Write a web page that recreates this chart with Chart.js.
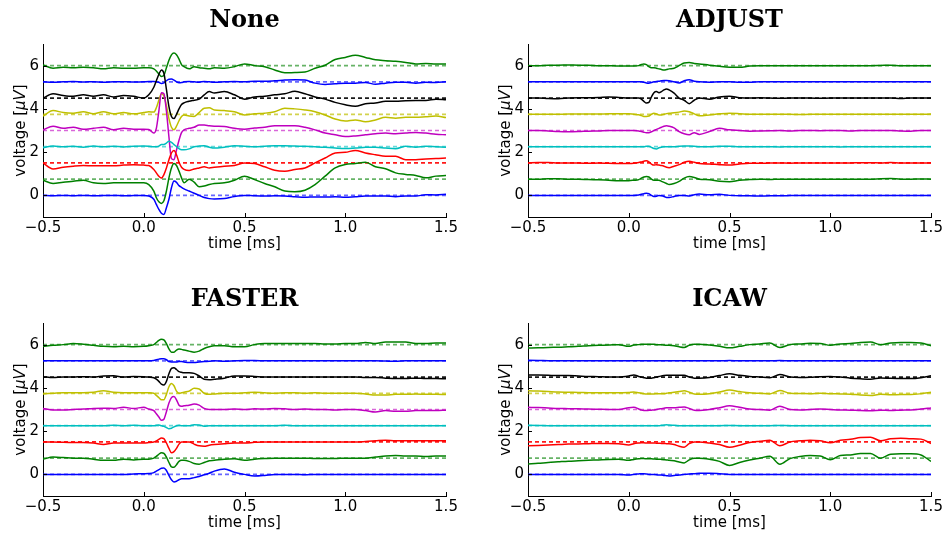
<!DOCTYPE html>
<html>
<head>
<meta charset="utf-8">
<script src="https://cdn.jsdelivr.net/npm/chart.js@4.4.0/dist/chart.umd.min.js"></script>
<style>
  html, body { margin: 0; padding: 0; background: #fff; width: 947px; height: 537px; overflow: hidden; }
  canvas { position: absolute; }
</style>
</head>
<body>
<canvas id="cNone"></canvas>
<canvas id="cAdjust"></canvas>
<canvas id="cFaster"></canvas>
<canvas id="cIcaw"></canvas>
<script>
/* sample times [ms], finer around the artifact */
const times = [-0.5,-0.45,-0.4,-0.35,-0.3,-0.25,-0.2,-0.15,-0.1,-0.05,0,
  0.025,
  0.05,0.0625,0.075,0.0875,0.1,0.1125,0.125,0.1375,0.15,0.1625,0.175,0.1875,0.2,
  0.225,0.25,0.275,0.3,0.325,0.35,
  0.4,0.45,0.5,0.55,0.6,0.65,0.7,0.75,0.8,0.85,0.9,0.95,1.0,1.05,1.1,1.15,1.2,1.25,1.3,1.35,1.4,1.45,1.5];

/* channel baselines [uV] (bottom to top) */
const offsets = [0, 0.75, 1.5, 2.25, 3, 3.75, 4.5, 5.25, 6];
const xTicks = [-0.5, 0, 0.5, 1, 1.5];
const yTicks = [0, 2, 4, 6];

/* deviation from baseline per channel, one row per channel */
const noneTraces = [
  [0,-0.02,0,-0.02,0,-0.02,-0.01,0,-0.02,-0.01,0, -0.03, -0.18,-0.42,-0.65,-0.83,-0.88,-0.57,-0.18,0.35,0.66,0.6,0.45,0.37,0.3, 0.2,0.1,0,-0.1,-0.15,-0.17, -0.15,-0.05,0,-0.02,-0.03,-0.02,-0.03,-0.06,-0.09,-0.07,-0.08,-0.06,-0.09,-0.06,-0.03,-0.03,-0.03,-0.06,-0.03,-0.03,0.03,0.02,0.05],
  [-0.05,-0.2,-0.14,-0.1,-0.05,-0.17,-0.2,-0.17,-0.17,-0.17,-0.17, -0.25, -0.55,-0.86,-1.05,-1.12,-1.0,-0.55,0.06,0.52,0.72,0.63,0.37,0.06,-0.17, 0,-0.14,-0.35,-0.32,-0.25,-0.2, -0.17,-0.05,0.14,-0.02,-0.2,-0.35,-0.55,-0.58,-0.51,-0.25,0.14,0.52,0.68,0.72,0.78,0.57,0.48,0.29,0.22,0.17,0.06,0.14,0.17],
  [0,-0.28,-0.2,-0.15,-0.12,-0.13,-0.13,-0.13,-0.1,-0.08,-0.1, -0.12, -0.3,-0.46,-0.62,-0.7,-0.54,-0.23,0.15,0.46,0.57,0.38,0.03,-0.2,-0.3, -0.35,-0.28,-0.23,-0.18,-0.23,-0.2, -0.15,-0.12,0,-0.03,-0.18,-0.34,-0.38,-0.3,-0.23,0,0.23,0.46,0.49,0.58,0.46,0.38,0.31,0.31,0.15,0.15,0.18,0.2,0.23],
  [-0.05,0.03,0,0.02,-0.02,0.03,0,0.02,-0.01,0.02,0.03, 0.02, 0,0,0.03,0.1,0.1,0.17,0.25,0.2,0.1,0,-0.09,-0.14,-0.14, -0.1,0,0.03,0.04,-0.02,-0.06, -0.02,0.04,0.02,0,0.02,0.04,0.04,0.03,0.02,0,-0.03,-0.06,-0.08,-0.06,-0.03,-0.02,-0.06,-0.09,0.02,-0.02,0.02,0,-0.02],
  [0.03,0.2,0.1,0.15,0.06,0.1,0.15,0.03,0.1,0.06,0.06, 0.05, -0.12,0.1,0.9,1.75,1.7,0.9,-0.3,-1.3,-1.35,-0.9,-0.45,-0.1,0.03, 0.1,0.15,0.25,0.25,0.22,0.2, 0.18,0.1,0.06,0.11,0.15,0.22,0.22,0.22,0.15,0.03,-0.12,-0.2,-0.28,-0.25,-0.2,-0.15,-0.12,-0.15,-0.12,-0.09,-0.12,-0.17,-0.2],
  [-0.08,0.17,0.08,0.05,0.12,0.02,0.12,0.02,0.08,0.02,0.08, 0.12, 0.1,0.3,0.65,0.95,0.85,0.4,-0.2,-0.6,-0.72,-0.55,-0.3,-0.1,-0.03, -0.08,-0.1,0.08,0.28,0.3,0.2, 0.17,0.12,-0.03,0.02,0.05,0.12,0.28,0.25,0.2,0.12,-0.03,-0.22,-0.31,-0.26,-0.34,-0.26,-0.14,-0.18,-0.14,-0.14,-0.11,-0.08,-0.15],
  [0,0.2,0.12,0.08,0.15,0.08,0.15,0.05,0.12,0.08,0, 0.15, 0.5,0.8,1.1,1.3,1.15,0.4,-0.4,-0.85,-0.95,-0.75,-0.5,-0.3,-0.22, -0.15,-0.1,-0.05,0.15,0.3,0.23, 0.3,0.15,-0.05,0.05,0.08,0.15,0.2,0.31,0.2,0.05,-0.05,-0.2,-0.31,-0.38,-0.26,-0.23,-0.15,-0.15,-0.12,-0.11,-0.11,-0.05,-0.08],
  [0,-0.02,0,0.02,-0.01,0.01,-0.02,0,0.01,-0.01,0, 0.02, 0.02,0,-0.02,-0.08,-0.05,0.05,0.12,0.13,0.08,0,-0.04,-0.03,0, 0.02,0,-0.02,0.02,0,-0.02, 0,0.02,0,0.03,0.03,0.05,0.08,0.1,0.08,-0.06,-0.12,-0.09,-0.06,-0.06,-0.03,-0.11,-0.06,-0.02,-0.02,-0.06,-0.02,-0.03,0],
  [0.03,-0.12,-0.08,-0.1,-0.08,-0.1,-0.15,-0.1,-0.12,-0.12,-0.1, -0.1, -0.15,-0.25,-0.38,-0.5,-0.45,-0.1,0.25,0.5,0.58,0.5,0.3,0.05,-0.05, -0.15,-0.05,-0.1,-0.12,-0.15,-0.1, -0.12,-0.05,0.08,0,-0.05,-0.2,-0.33,-0.32,-0.3,-0.12,0.02,0.28,0.38,0.48,0.38,0.27,0.23,0.2,0.15,0.08,0.1,0.08,0.08]
];

const adjustTraces = [
  [0,0,-0.01,0,0,-0.01,0,-0.01,0,0,0, 0, 0.02,0.05,0.08,0.1,0.08,0,-0.05,-0.04,0,-0.02,-0.05,-0.1,-0.1, -0.05,0,0,-0.03,0.03,0.06, 0.03,0.05,0,-0.02,-0.02,-0.03,-0.02,-0.02,-0.01,0,0,-0.01,0,0,0,0,-0.01,0,0,0,0,0,0],
  [0,0,0.02,0.02,0,0,-0.02,-0.03,-0.05,-0.07,-0.07, -0.05, -0.02,0.05,0.1,0.12,0.1,0,-0.05,-0.05,-0.05,-0.1,-0.15,-0.2,-0.25, -0.2,-0.1,0.05,0.12,0.08,0, -0.03,-0.1,-0.12,-0.05,-0.02,0,-0.02,0,0,0,0,-0.01,0,0,0,0,0,0.02,0.03,0,0,0.01,0],
  [0,0.02,0.02,0,0,0,-0.02,0,-0.02,-0.03,-0.03, -0.02, 0.02,0.05,0.08,0.1,0.05,-0.05,-0.1,-0.08,-0.1,-0.12,-0.15,-0.2,-0.22, -0.15,-0.08,0.03,0.08,0.03,-0.03, -0.05,-0.08,-0.1,-0.05,-0.02,-0.02,0,0,-0.01,0,0,0,0,0,0,0.01,0.01,0,0.02,0,0,0,0],
  [0,0,0,0,0,0,0,0,0,0,0, 0, 0,0,0,0.02,0.02,-0.03,-0.08,-0.1,-0.05,-0.02,0,0,0, 0,0.02,0.03,0.03,0.02,0, 0,0.02,0.02,0,0,0,0,-0.01,0,0,0,0,0,-0.01,0,0,0,0,0,0,0,0,0],
  [0,0,-0.02,-0.05,-0.06,-0.05,-0.03,-0.02,0,0,0, 0, -0.02,-0.05,-0.08,-0.1,-0.1,-0.06,0,0.05,0.1,0.15,0.2,0.22,0.2, 0.12,-0.05,-0.15,-0.2,-0.1,-0.18, -0.05,0.1,0.03,0,-0.03,-0.02,-0.01,0,-0.02,0,0,-0.01,0,0,-0.02,0,0,0,0,-0.02,-0.03,0,0],
  [0,0,0,0,0.01,0.01,0.01,0.01,0.02,0.02,0.02, 0, -0.02,-0.06,-0.1,-0.1,-0.08,0,0.05,0.02,-0.03,-0.03,0,0.03,0.05, 0.07,0.1,0.15,0.12,0.02,-0.07, -0.03,0.02,0.05,0.03,0,0,0,0,0,-0.01,0,0,0,0,0,0,0,0,0,0,0,0,0.01],
  [0,0,-0.02,-0.03,0,0.02,0.02,0.03,0.05,0.03,0, 0, 0,-0.05,-0.15,-0.23,-0.2,0.05,0.25,0.3,0.25,0.3,0.38,0.42,0.38, 0.23,0,-0.1,-0.26,-0.1,0, -0.05,0.05,0.08,0.02,0,0.01,0,-0.01,0,0,0,-0.01,0,0,0,0,0,0,0,-0.02,0,0,0],
  [0,0,0,0,0,0,0,0,0,0,0, 0, 0,0,-0.02,-0.05,-0.06,-0.03,0,0.02,0.03,0.05,0.06,0.06,0.05, 0,-0.05,0.05,0.1,0.03,0, -0.02,0,0,-0.02,-0.02,0,0,0,0,0,0,0,0,0,0,0,0,0,0,0,0,0,0],
  [0,0,0.02,0.02,0.03,0.02,0.02,0,0,-0.02,-0.02, -0.02, 0,0.05,0.08,0.05,-0.05,-0.1,-0.1,-0.12,-0.15,-0.18,-0.2,-0.18,-0.15, -0.12,0,0.12,0.14,0.1,0.08, 0.02,-0.03,-0.07,-0.08,-0.02,0,0,0,0,0,0,0,0,0,0,0,0,0.01,0.02,0,0,0,0]
];

const fasterTraces = [
  [0,0,0,0,0,0,0,0,0,0.02,0.03, 0.04, 0.08,0.15,0.22,0.28,0.3,0.18,-0.05,-0.25,-0.35,-0.32,-0.25,-0.2,-0.2, -0.2,-0.15,-0.1,-0.02,0.05,0.15, 0.25,0.1,0,-0.08,-0.05,0,0,0,-0.02,0,0,0,-0.01,0,0,-0.01,0,0,0,0,0,0,0],
  [-0.05,0.05,0.03,0,0,-0.05,-0.1,-0.1,-0.05,-0.08,-0.05, -0.05, 0,0.08,0.18,0.25,0.22,0.05,-0.2,-0.4,-0.42,-0.3,-0.15,-0.1,-0.1, -0.15,-0.25,-0.28,-0.2,-0.12,-0.1, -0.05,-0.03,-0.1,-0.05,-0.02,0,0,0,0,-0.02,-0.02,-0.02,0,0,0,0.05,0.1,0.12,0.1,0.1,0.08,0.1,0.1],
  [0,0,-0.02,-0.03,-0.03,-0.05,-0.12,-0.05,-0.05,-0.05,-0.05, -0.03, 0,0.05,0.12,0.18,0.15,-0.05,-0.3,-0.5,-0.45,-0.3,-0.1,0,0, 0,-0.1,-0.18,-0.2,-0.15,-0.12, -0.08,-0.05,-0.05,-0.02,0,0,0,0,0,0,0,0,0,0,0.02,0.05,0.08,0.06,0.06,0.05,0.05,0.05,0.05],
  [0,0,0,0,0,0,0,0.02,0,0.02,0, 0, 0,0.02,0.03,0,-0.03,-0.08,-0.14,-0.12,-0.05,0,0.02,0,0, 0,0.05,0.03,-0.02,0,0, 0,0,0,0,0,0,0.02,0,0,0,0,0,0,0,0,0,0,0,0,0,0,0,0],
  [0.05,-0.02,-0.02,0,0.02,0.05,0.06,0.05,0.1,0.05,0.1, 0.02, -0.05,-0.2,-0.35,-0.5,-0.45,-0.1,0.3,0.55,0.6,0.45,0.2,0.15,0.17, 0.2,0.25,0.2,0.05,0,0, 0,0.02,0,0.03,0.02,0.05,0.03,0,0.02,0,0,-0.02,0,0,-0.05,-0.12,-0.05,-0.08,-0.08,-0.05,-0.05,-0.05,-0.03],
  [-0.03,0,0.03,0.03,0.03,0.05,0.12,0.05,0.03,0.03,0.03, 0.02, 0,-0.1,-0.2,-0.3,-0.3,-0.05,0.3,0.45,0.35,0.1,0,0.02,0.05, 0.1,0.23,0.2,0,-0.05,-0.03, 0,0,0.02,0.05,0.02,0,0.02,0.02,0,0.03,0,0,0,0,-0.03,-0.08,-0.08,-0.05,-0.05,-0.03,-0.05,-0.05,-0.06],
  [0.02,-0.02,0,0,0.02,0,0.05,0.06,0,0.03,0.02, 0, -0.03,-0.1,-0.2,-0.33,-0.37,-0.2,0.15,0.4,0.43,0.35,0.25,0.22,0.2, 0.2,0.17,0.05,-0.1,-0.12,-0.1, -0.05,0.05,0.05,0.03,0,0,0,0,0,0,0,0,0,0,-0.02,-0.02,-0.05,-0.07,-0.07,-0.05,-0.07,-0.07,-0.08],
  [0,0,0,0,0,0,0,0,0,0,0, 0, 0.02,0.05,0.08,0.1,0.1,0.05,-0.03,-0.05,-0.05,-0.05,-0.03,-0.03,-0.05, -0.08,-0.08,-0.05,-0.03,-0.02,0, -0.02,0,0.02,0.02,0,0,0,0,0,0,0,0,0,0,0,0,-0.01,-0.02,0,0,0,0,0],
  [-0.08,-0.03,0,0.05,0.02,-0.03,-0.08,-0.1,-0.08,-0.1,-0.08, -0.05, 0,0.1,0.2,0.25,0.22,0.05,-0.2,-0.35,-0.35,-0.25,-0.2,-0.22,-0.25, -0.3,-0.35,-0.3,-0.18,-0.1,-0.05, -0.05,-0.1,-0.1,0,0.05,0.05,0.05,0.05,0.05,0.05,0.03,0.03,0.05,0.05,0.1,0.05,0.12,0.12,0.12,0.05,0.05,0.08,0.08]
];

const icawTraces = [
  [0,0,0,0,0,0,0,0,0,0,-0.03, 0, 0.02,0.03,0.03,0.02,0,0,0,-0.02,-0.03,-0.03,-0.05,-0.06,-0.07, -0.05,-0.03,0,0.02,0.03,0.05, 0.05,0.03,0,0,0,0,0,0,0,0,0,0,0,0,0,0,0,0,0,0,0,0,0],
  [-0.27,-0.24,-0.2,-0.17,-0.14,-0.12,-0.1,-0.08,-0.06,-0.05,-0.1, -0.06, -0.03,-0.02,-0.02,-0.03,-0.03,-0.03,-0.04,-0.05,-0.05,-0.06,-0.07,-0.08,-0.1, -0.12,-0.18,-0.22,-0.08,0,0, -0.05,-0.15,-0.34,-0.2,-0.09,0,0.09,-0.28,-0.02,0.08,0.12,0.1,-0.07,0.12,0.15,0.22,0.22,0,0.18,0.2,0.2,0.15,-0.15],
  [-0.18,-0.16,-0.14,-0.12,-0.1,-0.09,-0.08,-0.07,-0.07,-0.08,-0.14, -0.08, -0.05,-0.04,-0.04,-0.05,-0.05,-0.05,-0.05,-0.06,-0.06,-0.07,-0.07,-0.08,-0.08, -0.12,-0.2,-0.24,-0.08,0,0, -0.05,-0.12,-0.25,-0.15,-0.03,0.03,0.08,-0.18,0,0.05,0.08,0.06,-0.04,0.08,0.12,0.2,0.22,0.05,0.15,0.17,0.15,0.13,-0.07],
  [0.02,0.01,0,0,0,0,0,0,0,0,0, 0, 0,0,0,0,0,0,0,0,0,0.02,0.03,0.04,0.03, 0.02,0,0,0,0,0, 0,0,0.01,0,0,0,0,0.01,0,0,0,0,0,0,0,0,0,0,0,0,0,0,0],
  [0.1,0.09,0.07,0.05,0.04,0.03,0.02,0.01,0,0,0.08, 0.1, 0.02,-0.03,-0.05,-0.05,-0.04,-0.03,-0.02,0,0.02,0.04,0.06,0.08,0.08, 0.08,0.1,0.12,0.05,-0.03,-0.05, 0,0.08,0.17,0.1,0.02,0,-0.03,0.15,0,-0.02,0,0.02,0,-0.02,-0.03,-0.05,-0.06,-0.03,-0.05,-0.03,-0.02,0.02,0.07],
  [0.12,0.1,0.08,0.06,0.05,0.04,0.03,0.02,0.02,0.02,0.04, 0.06, 0.02,0,-0.02,-0.03,-0.03,-0.03,-0.03,-0.02,-0.02,-0.02,-0.02,0,0.02, 0.05,0.08,0.12,0.05,-0.03,-0.05, -0.02,0.06,0.15,0.08,0.02,0,-0.03,0.13,0,-0.01,-0.02,0,-0.02,-0.03,-0.04,-0.08,-0.1,-0.05,-0.07,-0.06,-0.06,-0.02,0.05],
  [0.1,0.09,0.08,0.07,0.07,0.05,0.03,0.02,0,0,0.05, 0.1, 0.03,0,-0.03,-0.05,-0.05,-0.05,-0.03,0,0.03,0.05,0.07,0.08,0.08, 0.08,0.08,0.08,0,-0.05,-0.05, -0.02,0.07,0.15,0.08,0.03,0,-0.03,0.12,0,-0.02,-0.01,0.02,0.03,0,-0.05,-0.08,-0.1,-0.04,-0.06,-0.07,-0.07,-0.03,0.06],
  [0.03,0.02,0.01,0,0,0,0,0,0,0,0, 0, 0,0,0,0,0,0,0,0,0,0,0,0,0, 0,0,0,0,0,0, 0,0,0.02,0,0,0,0,0.02,0,0,0,0,0,0,0,0,0,0,0,0,0,0,0],
  [-0.16,-0.15,-0.13,-0.12,-0.1,-0.08,-0.05,-0.03,-0.02,0,-0.08, -0.02, 0,0.02,0.02,0.02,0.02,0.02,0.02,0,0,0,-0.02,-0.03,-0.03, -0.05,-0.1,-0.13,-0.03,0.02,0.02, -0.02,-0.08,-0.15,-0.08,0,0.03,0.07,-0.13,0,0.03,0.06,0.05,-0.03,0.03,0.05,0.1,0.12,0,0.08,0.1,0.1,0.07,-0.05]
];

const lineColors = ['#0000ff','#008000','#ff0000','#00bfbf','#bf00bf','#bfbf00','#000000','#0000ff','#008000'];
const dashColors = ['rgba(0,0,255,0.6)','rgba(0,128,0,0.6)','rgba(255,0,0,0.9)','rgba(0,191,191,0.6)',
  'rgba(191,0,191,0.6)','rgba(191,191,0,0.7)','rgba(0,0,0,0.9)','rgba(0,0,255,0.6)','rgba(0,128,0,0.6)'];

const tickFont = {family: 'DejaVu Sans', size: 15};
function fmtX(v){ return (v < 0 ? '\u2212' : '') + Math.abs(v).toFixed(1); }

// inward ticks, panel title and axis titles
const decor = {
  id: 'decor',
  afterDraw(chart, args, opts){
    const {ctx, chartArea: a, scales: {x, y}} = chart;
    ctx.save();
    ctx.strokeStyle = '#000'; ctx.lineWidth = 1;
    ctx.beginPath();
    xTicks.forEach(v => { const px = Math.round(x.getPixelForValue(v)) + 0.5; ctx.moveTo(px, a.bottom); ctx.lineTo(px, a.bottom - 4); });
    yTicks.forEach(v => { const py = Math.round(y.getPixelForValue(v)) + 0.5; ctx.moveTo(a.left, py); ctx.lineTo(a.left + 4, py); });
    ctx.stroke();

    const cx = (a.left + a.right) / 2;
    ctx.fillStyle = '#000';
    ctx.textBaseline = 'alphabetic';
    ctx.textAlign = 'center';
    ctx.font = 'bold 24px "DejaVu Serif"';
    ctx.fillText(opts.title, cx, 27);
    ctx.font = '15px "DejaVu Sans"';
    ctx.fillText('time [ms]', cx, a.bottom + 31);

    // y label with italic mu V
    const parts = [['voltage [', '15px "DejaVu Sans"'], ['\u03bcV', 'italic 15px "DejaVu Sans"'], [']', '15px "DejaVu Sans"']];
    let total = 0;
    parts.forEach(p => { ctx.font = p[1]; total += ctx.measureText(p[0]).width; });
    ctx.translate(20, (a.top + a.bottom) / 2);
    ctx.rotate(-Math.PI / 2);
    ctx.textAlign = 'left';
    let u = -total / 2;
    parts.forEach(p => { ctx.font = p[1]; ctx.fillText(p[0], u, 5); u += ctx.measureText(p[0]).width; });
    ctx.restore();
  }
};

function makePanel(id, title, traces, left, top, h){
  const cv = document.getElementById(id);
  cv.width = 461; cv.height = h;
  cv.style.left = left + 'px'; cv.style.top = top + 'px';
  const datasets = [];
  traces.forEach((tr, k) => {
    datasets.push({
      data: tr.map((v, i) => ({x: times[i], y: offsets[k] + v})),
      borderColor: lineColors[k], borderWidth: 1.5, pointRadius: 0,
      cubicInterpolationMode: 'monotone', fill: false, order: 0
    });
    datasets.push({
      data: [{x: -0.5, y: offsets[k]}, {x: 1.5, y: offsets[k]}],
      borderColor: dashColors[k], borderWidth: 1.7, borderDash: [4, 3],
      pointRadius: 0, fill: false, order: 1
    });
  });
  new Chart(cv, {
    type: 'line',
    data: {datasets},
    options: {
      responsive: false, animation: false, events: [],
      layout: {padding: {top: 44, right: 15, left: 0, bottom: 0}},
      plugins: {legend: {display: false}, tooltip: {enabled: false}, decor: {title}},
      scales: {
        x: {
          type: 'linear', min: -0.5, max: 1.5,
          afterBuildTicks: s => { s.ticks = xTicks.map(v => ({value: v})); },
          afterFit: s => { s.height = h - 217; },
          ticks: {callback: v => fmtX(v), font: tickFont, color: '#000', padding: 2, maxRotation: 0, autoSkip: false},
          grid: {display: false, drawTicks: false},
          border: {display: true, color: '#000', width: 1}
        },
        y: {
          min: -1, max: 7,
          afterBuildTicks: s => { s.ticks = yTicks.map(v => ({value: v})); },
          afterFit: s => { s.width = 43; },
          ticks: {callback: v => String(v), font: tickFont, color: '#000', padding: 4},
          grid: {display: false, drawTicks: false},
          border: {display: true, color: '#000', width: 1}
        }
      }
    },
    plugins: [decor]
  });
}

makePanel('cNone', 'None', noneTraces, 0, 0, 268);
makePanel('cAdjust', 'ADJUST', adjustTraces, 485, 0, 268);
makePanel('cFaster', 'FASTER', fasterTraces, 0, 279, 258);
makePanel('cIcaw', 'ICAW', icawTraces, 485, 279, 258);
</script>
</body>
</html>
